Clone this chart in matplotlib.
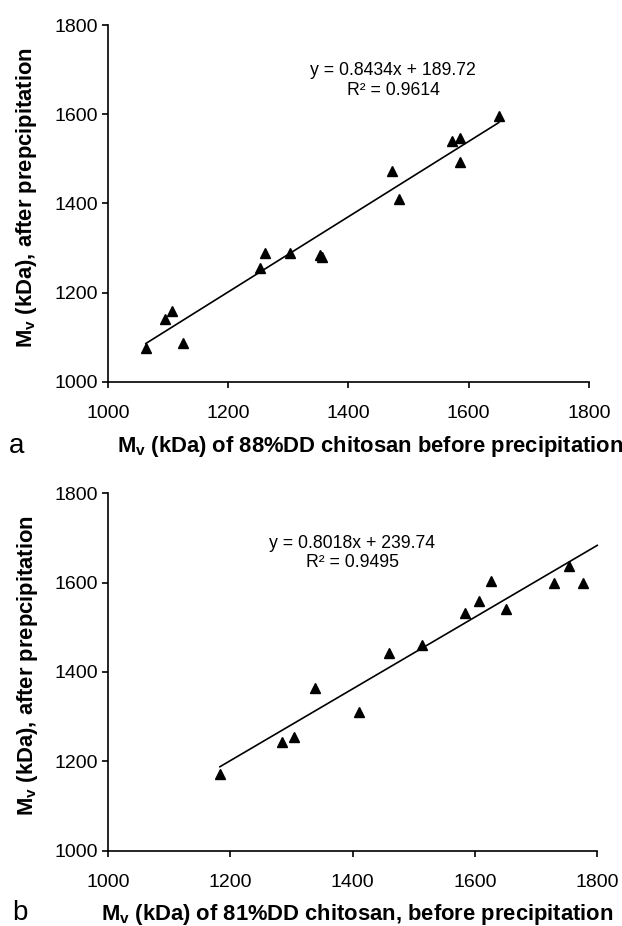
import numpy as np
import matplotlib
matplotlib.use('Agg')
import matplotlib.pyplot as plt

plt.rcParams['font.family'] = ['Liberation Sans', 'DejaVu Sans']
plt.rcParams['mathtext.fontset'] = 'custom'
plt.rcParams['mathtext.rm'] = 'Liberation Sans'
plt.rcParams['mathtext.bf'] = 'Liberation Sans:bold'

# 88%DD chitosan: Mv before / after precipitation (kDa)
mv_before_a = [1063, 1095, 1106, 1125, 1253, 1261, 1302, 1353, 1356,
               1473, 1484, 1573, 1585, 1585, 1650]
mv_after_a = [1077, 1141, 1160, 1087, 1255, 1288, 1288, 1284, 1280,
              1473, 1410, 1540, 1547, 1494, 1597]
slope_a, icpt_a, r2_a = 0.8434, 189.72, 0.9614
fit_x_a = [1063, 1650]

# 81%DD chitosan
mv_before_b = [1183, 1285, 1304, 1339, 1410, 1460, 1514, 1583, 1607,
               1627, 1650, 1730, 1754, 1777]
mv_after_b = [1172, 1243, 1255, 1364, 1311, 1442, 1460, 1531, 1559,
              1604, 1541, 1600, 1637, 1600]
slope_b, icpt_b, r2_b = 0.8018, 239.74, 0.9495
fit_x_b = [1183, 1800]

ticks = [1000, 1200, 1400, 1600, 1800]
ylabel = r'$\mathbf{M_v}$ (kDa), after prepcipitation'
xlabel_a = r'$\mathbf{M_v}$ (kDa) of 88%DD chitosan before precipitation'
xlabel_b = r'$\mathbf{M_v}$ (kDa) of 81%DD chitosan, before precipitation'

fig = plt.figure(figsize=(6.22, 9.26), dpi=100)
ax1 = fig.add_axes([0.1736, 0.5875, 0.7733, 0.3855])
ax2 = fig.add_axes([0.1736, 0.0810, 0.7866, 0.3866])

# axes, data, fit, x label + its anchor, ylabel anchor, panel tag + anchor, equation centre
panels = [
    (ax1, mv_before_a, mv_after_a, slope_a, icpt_a, r2_a, fit_x_a,
     xlabel_a, (0.545, -0.146), (-0.143, 0.517), 'a', (-0.206, -0.179),
     (1474, 1675)),
    (ax2, mv_before_b, mv_after_b, slope_b, icpt_b, r2_b, fit_x_b,
     xlabel_b, (0.51, -0.142), (-0.139, 0.517), 'b', (-0.196, -0.173),
     (1399, 1666)),
]

for (ax, xs, ys, m, c, r2, fx, xl, xlc, ylc, tag, tagxy, txy) in panels:
    ax.plot(xs, ys, '^', color='black', ms=6.5, clip_on=False, zorder=3)
    fx = np.array(fx)
    ax.plot(fx, m * fx + c, '-', color='black', lw=1.2, clip_on=False)

    ax.set_xlim(1000, 1800)
    ax.set_ylim(1000, 1800)
    ax.set_xticks(ticks)
    ax.set_yticks(ticks)
    for s in ['top', 'right']:
        ax.spines[s].set_visible(False)
    for s in ['left', 'bottom']:
        ax.spines[s].set_linewidth(1.2)
    ax.tick_params(direction='out', length=4.5, width=1.2, labelsize=14)
    ax.tick_params(axis='x', pad=12)
    ax.tick_params(axis='y', pad=2.5)

    ax.set_xlabel(xl, fontsize=15.8, fontweight='bold')
    ax.set_ylabel(ylabel, fontsize=15.8, fontweight='bold')
    ax.xaxis.set_label_coords(*xlc)
    ax.yaxis.set_label_coords(*ylc)

    eq = 'y = {:.4f}x + {:.2f}\nR\u00b2 = {:.4f}'.format(m, c, r2)
    ax.text(txy[0], txy[1], eq, ha='center', va='center', fontsize=12.7,
            linespacing=1.2)

    ax.text(tagxy[0], tagxy[1], tag, transform=ax.transAxes, fontsize=20,
            ha='left', va='center')

fig.savefig('out.png', dpi=100)
